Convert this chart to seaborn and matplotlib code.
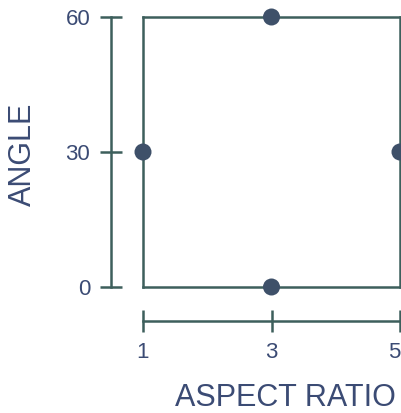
import matplotlib
matplotlib.use("Agg")
import matplotlib.pyplot as plt
import seaborn as sns
import pandas as pd

# data
aspect_ratio = [1, 3, 5, 3]
angle = [30, 60, 30, 0]
x_ticks = [1, 3, 5]
y_ticks = [0, 30, 60]

df = pd.DataFrame({"aspect": aspect_ratio, "angle": angle})

sns.set_style("white")
plt.rcParams["font.family"] = ["Liberation Sans", "DejaVu Sans"]

text_col = "#3b4b74"
line_col = "#3d5f5c"
dot_col = "#3e5069"

fig = plt.figure(figsize=(4.02, 4.13), dpi=100)
rect = [143 / 402, 126 / 413, 257 / 402, 270 / 413]

# the box with the points
ax = fig.add_axes(rect)
sns.scatterplot(data=df, x="aspect", y="angle", ax=ax, s=150, color=dot_col,
                edgecolor="none", clip_on=False, zorder=5)
ax.set_xlim(1, 5)
ax.set_ylim(0, 60)
ax.tick_params(bottom=False, left=False, labelbottom=False, labelleft=False)
ax.set_xlabel("")
ax.set_ylabel("")
for sp in ax.spines.values():
    sp.set_visible(True)
    sp.set_color(line_col)
    sp.set_linewidth(1.8)

# detached range-frame axes
ax2 = fig.add_axes(rect)
ax2.set_xlim(1, 5)
ax2.set_ylim(0, 60)
ax2.patch.set_visible(False)
for name in ["top", "right"]:
    ax2.spines[name].set_visible(False)
ax2.spines["left"].set_position(("outward", 23))
ax2.spines["bottom"].set_position(("outward", 24.5))
for name in ["left", "bottom"]:
    ax2.spines[name].set_color(line_col)
    ax2.spines[name].set_linewidth(1.8)
ax2.set_xticks(x_ticks)
ax2.set_yticks(y_ticks)
ax2.tick_params(axis="y", left=True, direction="inout", length=16, width=1.8, pad=7,
                color=line_col, labelcolor=text_col, labelsize=16)
ax2.tick_params(axis="x", bottom=True, direction="inout", length=16, width=1.8, pad=7,
                color=line_col, labelcolor=text_col, labelsize=16)
ax2.get_xticklabels()[-1].set_horizontalalignment("right")
ax2.set_xlabel("ASPECT RATIO", fontsize=22, color=text_col)
ax2.set_ylabel("ANGLE", fontsize=22, color=text_col)
ax2.xaxis.set_label_coords(0.553, -0.357)
ax2.yaxis.set_label_coords(-0.41, 0.49)

fig.savefig("out.png", dpi=100)
